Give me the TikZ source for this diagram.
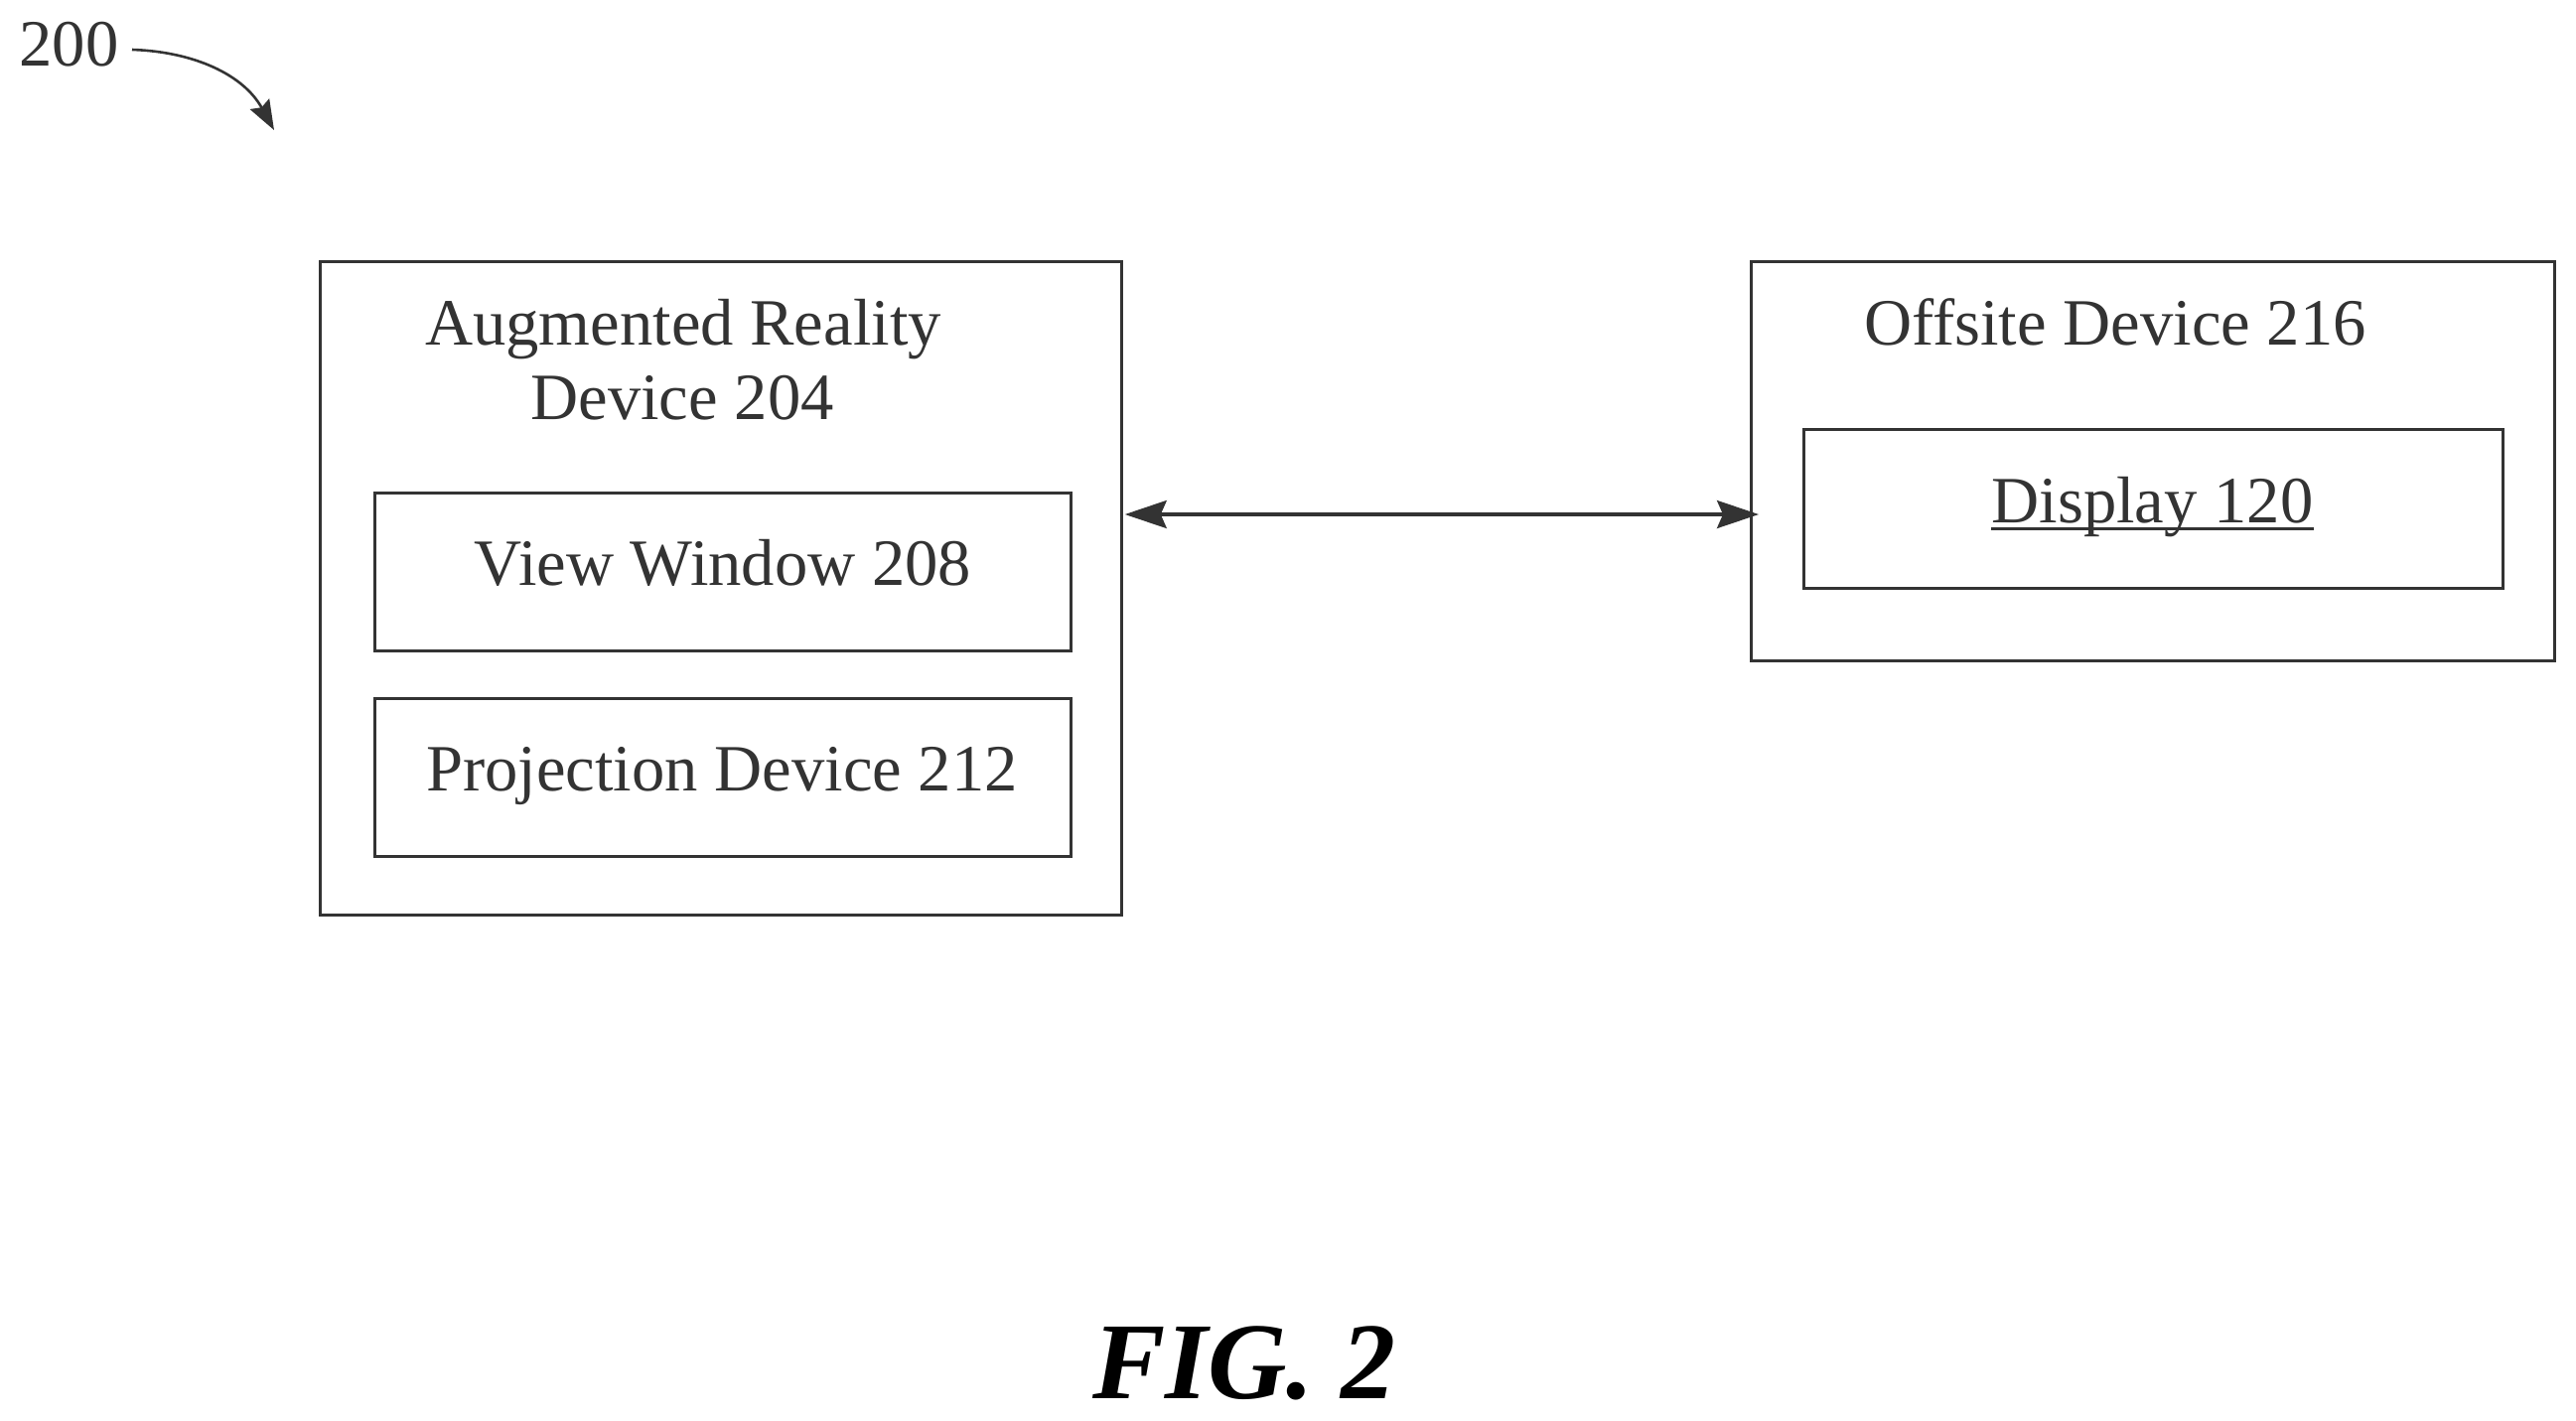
\documentclass[tikz,border=0pt]{standalone}
\usepackage{fontspec}
\setmainfont{Liberation Serif}
\usetikzlibrary{arrows.meta}
\definecolor{dgray}{rgb}{0.2,0.2,0.2}
\newcommand{\lbl}[4]{\node[txt] (#1) at (#2,#3) {#4};}
\tikzset{
  bx/.style={draw=dgray,line width=1.5pt,inner sep=0pt,outer sep=0pt},
  txt/.style={anchor=base,text=dgray,inner sep=0pt,font=\fontsize{33.3}{37.5}\selectfont},
  tipp/.style={line width=1.6pt,draw=dgray,{Stealth[length=21pt,width=14pt,inset=3pt]}-{Stealth[length=21pt,width=14pt,inset=3pt]}}
}
\begin{document}
\begin{tikzpicture}[x=0.5pt,y=-0.5pt]
\useasboundingbox (0,0) rectangle (2594,1430);

% reference number
\lbl{num}{69.5}{66}{200}
\coordinate (numtip) at (276,131);
\draw[line width=1.3pt,draw=dgray,-{Stealth[length=15pt,width=11pt,inset=2pt]}] (133,50) .. controls (195,52) and (245,75) .. (numtip);

% augmented reality device
\node[bx,minimum width=403.75pt,minimum height=329pt] (ar) at (726,592) {};
\lbl{artop}{688}{347}{Augmented Reality}
\lbl{arbot}{687}{422}{Device 204}

\node[bx,minimum width=350.75pt,minimum height=79.5pt] (view) at (727.8,575.5) {};
\lbl{viewt}{728}{589}{View Window 208}

\node[bx,minimum width=350.75pt,minimum height=79.5pt] (proj) at (727.8,782.5) {};
\lbl{projt}{727}{796}{Projection Device 212}

% offsite device
\node[bx,minimum width=404.5pt,minimum height=201pt] (off) at (2167.5,464) {};
\lbl{offt}{2130}{347}{Offsite Device 216}

\node[bx,minimum width=352pt,minimum height=80pt] (disp) at (2168.5,512) {};
\lbl{dispt}{2167.5}{526}{Display 120}
\draw[line width=1.4pt,draw=dgray] ([yshift=-3.4pt]dispt.base west) -- ([yshift=-3.4pt]dispt.base east);

% link
\coordinate (link) at (1450,518);
\draw[tipp,shorten <=1.5pt,shorten >=-4pt] (link -| ar.east) -- (link -| off.west);

% caption
\node[anchor=base,inner sep=0pt,text=black,font=\fontsize{55}{60}\selectfont\bfseries\itshape] (fig) at (1253,1408) {FIG. 2};
\end{tikzpicture}
\end{document}
